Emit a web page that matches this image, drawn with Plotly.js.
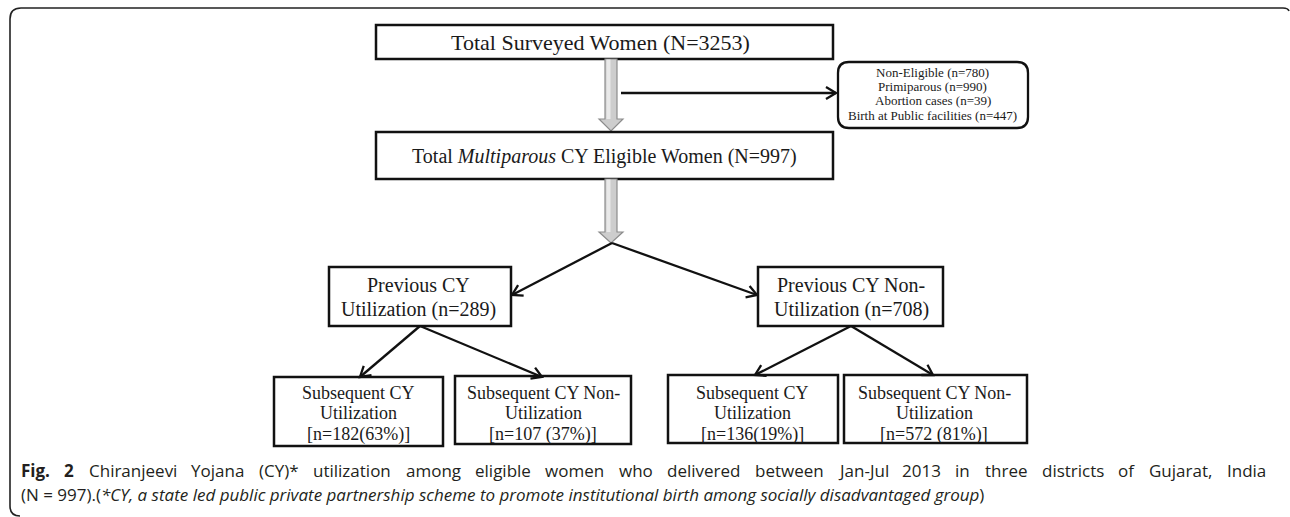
<!DOCTYPE html>
<html>
<head>
<meta charset="utf-8">
<script src="https://cdn.plot.ly/plotly-3.0.1.min.js"></script>
<style>html,body{margin:0;padding:0;background:#fff;}#chart{width:1290px;height:517px;}</style>
</head>
<body>
<div id="chart"></div>
<script>
// ---- data (flowchart counts) ----
const totalSurveyed = 3253;
const exclusionLabels = ['Non-Eligible', 'Primiparous', 'Abortion cases', 'Birth at Public facilities'];
const exclusionCounts = [780, 990, 39, 447];
const eligibleMultiparous = 997;
const previousLabels = [['Previous CY', 'Utilization'], ['Previous CY Non-', 'Utilization']];
const previousCounts = [289, 708];
const subsequentLabels = [['Subsequent CY', 'Utilization'], ['Subsequent CY Non-', 'Utilization'],
                          ['Subsequent CY', 'Utilization'], ['Subsequent CY Non-', 'Utilization']];
const subsequentCounts = [182, 107, 136, 572];
const subsequentPct = [63, 37, 19, 81];
const subsequentSep = ['', ' ', '', ' '];
const captionBold = 'Fig. 2';
const captionLine1 = 'Chiranjeevi Yojana (CY)* utilization among eligible women who delivered between Jan-Jul 2013 in three districts of Gujarat, India';
const captionLine2 = '(N = ' + eligibleMultiparous + ').(<i>*CY, a state led public private partnership scheme to promote institutional birth among socially disadvantaged group</i>)';

// ---- layout geometry (pixels) ----
const SERIF = 'Liberation Serif, Times New Roman, serif';
const CAP_FONT = 'Open Sans';
const CAP_SIZE = 17;
const shapes = [];
const annotations = [];

function box(x0, y0, x1, y1) {
  shapes.push({type: 'rect', xref: 'x', yref: 'y', x0, y0, x1, y1,
    line: {color: '#111', width: 2.5}, fillcolor: 'rgba(0,0,0,0)', layer: 'above'});
}
function text(x, y, t, size, extra) {
  annotations.push(Object.assign({xref: 'x', yref: 'y', x, y, text: t, showarrow: false,
    xanchor: 'center', yanchor: 'middle', font: {family: SERIF, size, color: '#1a1a1a'}}, extra || {}));
}
function arrow(x0, y0, x1, y1) {
  shapes.push({type: 'line', xref: 'x', yref: 'y', x0, y0, x1, y1, line: {color: '#111', width: 2.3}});
  const dx = x1 - x0, dy = y1 - y0, L = Math.hypot(dx, dy);
  const ux = dx / L, uy = dy / L, px = -uy, py = ux, len = 10, half = 6;
  const bx = x1 - ux * len, by = y1 - uy * len;
  shapes.push({type: 'path', xref: 'x', yref: 'y',
    path: `M ${bx + px * half},${by + py * half} L ${x1},${y1} L ${bx - px * half},${by - py * half}`,
    line: {color: '#111', width: 2.3}});
}
function blockArrow(cx, y0, yh, y1) {
  shapes.push({type: 'path', xref: 'x', yref: 'y',
    path: `M ${cx - 6},${y0} L ${cx + 6},${y0} L ${cx + 6},${yh} L ${cx + 12},${yh} L ${cx},${y1} L ${cx - 12},${yh} L ${cx - 6},${yh} Z`,
    fillcolor: '#cdcdcd', line: {color: '#8c8c8c', width: 1.2}});
  shapes.push({type: 'rect', xref: 'x', yref: 'y', x0: cx - 4.5, x1: cx - 0.5, y0: y0 + 0.5, y1: yh,
    fillcolor: '#e9e9e9', line: {width: 0}});
}

// frame
shapes.push({type: 'path', xref: 'x', yref: 'y',
  path: 'M 20,516 Q 10,516 10,506 L 10,19 Q 10,8 21,8 L 1283,8 Q 1288,8 1289,11',
  line: {color: '#222', width: 1.6}});

// top box
box(376, 25, 833, 59);
text(600, 42, 'Total Surveyed Women (N=' + totalSurveyed + ')', 22);

// exclusions
blockArrow(611, 59, 119, 131);
arrow(621, 93, 836, 93);
shapes.push({type: 'path', xref: 'x', yref: 'y',
  path: 'M 849,62 L 1017,62 Q 1028,62 1028,73 L 1028,117 Q 1028,128 1017,128 L 849,128 Q 838,128 838,117 L 838,73 Q 838,62 849,62 Z',
  line: {color: '#111', width: 2.3}, fillcolor: 'rgba(0,0,0,0)'});
const exclY = [72, 86.5, 100.5, 115];
exclusionLabels.forEach((l, i) => text(932.5, exclY[i], l + ' (n=' + exclusionCounts[i] + ')', 13));

// eligible box
box(376, 132, 833, 179);
text(604, 156, 'Total <i>Multiparous</i> CY Eligible Women (N=' + eligibleMultiparous + ')', 20);
blockArrow(611, 179, 232, 243);

// previous
arrow(612, 243, 512, 295);
arrow(612, 243, 757, 295);
const prevBoxes = [[329, 267, 511, 326], [758, 267, 943, 326]];
const prevCx = [418, 851];
prevBoxes.forEach((b, i) => {
  box(...b);
  text(prevCx[i], 285, previousLabels[i][0], 20);
  text(prevCx[i], 309, previousLabels[i][1] + ' (n=' + previousCounts[i] + ')', 20);
});

// subsequent
arrow(420, 326, 360, 377);
arrow(420, 326, 542, 377);
arrow(851, 326, 755, 375);
arrow(851, 326, 933, 375);
const subBoxes = [[274, 377, 443, 446], [455, 376, 631, 444], [668, 375, 838, 443], [844, 375, 1027, 443]];
const subCx = [358, 543, 752, 934];
subBoxes.forEach((b, i) => {
  box(...b);
  text(subCx[i], 393, subsequentLabels[i][0], 18);
  text(subCx[i], 413, subsequentLabels[i][1], 18);
  text(subCx[i], 434, '[n=' + subsequentCounts[i] + subsequentSep[i] + '(' + subsequentPct[i] + '%)]', 18);
});

// caption: first line justified between x=20 and x=1265
const ctx = document.createElement('canvas').getContext('2d');
function measure(t, bold) {
  ctx.font = (bold ? 'bold ' : '') + CAP_SIZE + 'px "' + CAP_FONT + '", sans-serif';
  return ctx.measureText(t).width;
}
const words = captionBold.split(' ').map(w => ({t: w, b: true}))
  .concat(captionLine1.split(' ').map(w => ({t: w, b: false})));
const widths = words.map(w => measure(w.t, w.b));
const total = widths.reduce((a, b) => a + b, 0);
const gap = (1265 - 20 - total) / (words.length - 1);
let cx = 20;
const capFontObj = {family: CAP_FONT + ', sans-serif', size: CAP_SIZE, color: '#231f20'};
words.forEach((w, i) => {
  annotations.push({xref: 'x', yref: 'y', x: cx, y: 470, text: w.b ? '<b>' + w.t + '</b>' : w.t,
    showarrow: false, xanchor: 'left', yanchor: 'middle', borderpad: 0, font: capFontObj});
  cx += widths[i] + gap;
});
annotations.push({xref: 'x', yref: 'y', x: 20, y: 494, text: captionLine2, showarrow: false,
  xanchor: 'left', yanchor: 'middle', borderpad: 0, font: capFontObj});

const layout = {
  width: 1290, height: 517, margin: {l: 0, r: 0, t: 0, b: 0},
  paper_bgcolor: '#fff', plot_bgcolor: '#fff', showlegend: false,
  xaxis: {range: [0, 1290], visible: false, fixedrange: true},
  yaxis: {range: [517, 0], visible: false, fixedrange: true},
  shapes, annotations
};
Plotly.newPlot('chart', [{x: [0], y: [0], mode: 'markers', marker: {opacity: 0}, hoverinfo: 'skip'}], layout, {displayModeBar: false, staticPlot: true});
</script>
</body>
</html>
